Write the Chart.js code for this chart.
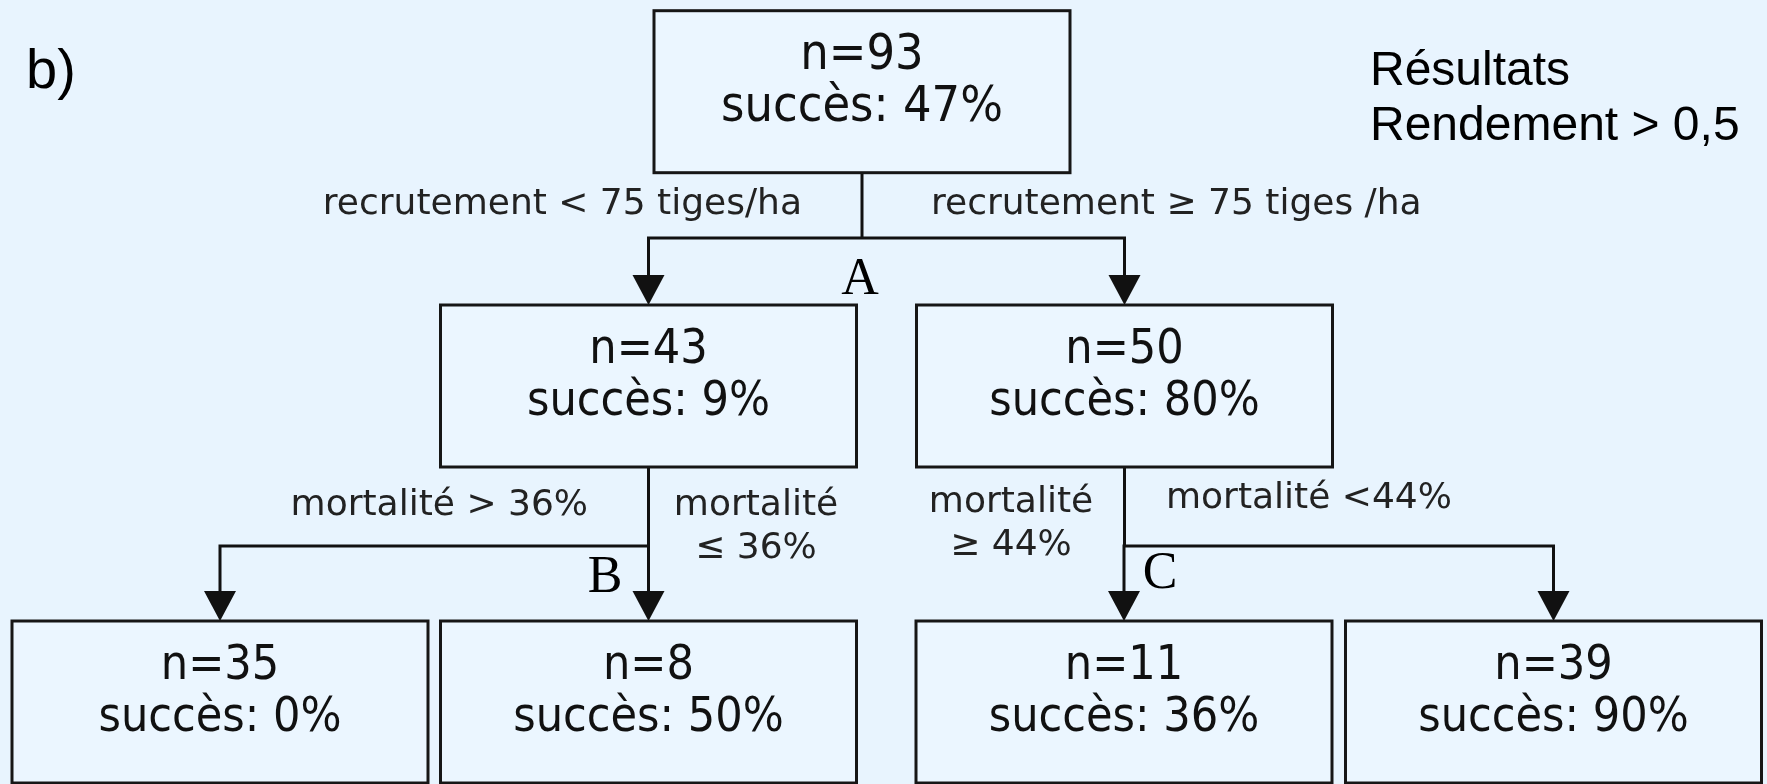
<!DOCTYPE html>
<html>
<head>
<meta charset="utf-8">
<script src="https://cdn.jsdelivr.net/npm/chart.js@4/dist/chart.umd.min.js"></script>
<style>
  html, body { margin: 0; padding: 0; background: #E8F4FE; }
  #wrap { width: 1767px; height: 784px; position: relative; }
</style>
</head>
<body>
<div id="wrap"><canvas id="c"></canvas></div>
<script>
// ---- data ----
const nodeN = [93, 43, 50, 35, 8, 11, 39];
const nodeSuccess = [47, 9, 80, 0, 50, 36, 90];
const nodeParent = [-1, 0, 0, 1, 1, 2, 2];
const splitNames = ['A', 'B', 'C'];          // split letter for nodes 0,1,2
const edgeLabels = [
  null,
  ['recrutement < 75 tiges/ha'],
  ['recrutement \u2265 75 tiges /ha'],
  ['mortalit\u00e9 > 36%'],
  ['mortalit\u00e9', '\u2264 36%'],
  ['mortalit\u00e9', '\u2265 44%'],
  ['mortalit\u00e9 <44%']
];
const panelLabel = 'b)';
const legendLines = ['R\u00e9sultats', 'Rendement > 0,5'];

// ---- layout (tree coordinates, mapped through the chart scales) ----
const nodeX = [862, 648.5, 1124.5, 220, 648.5, 1124, 1553.5];
const nodeTop = [10.7, 305, 305, 621, 621, 621, 621];
const boxW = 416, boxH = 162;
const branchY = [238, 546, 546];     // y of the horizontal connector below node i
const arrowH = 30, arrowW = 32;
// edge label anchors: [x, baseline y, align]
const edgeLabelPos = [null, [802, 214, 'right'], [931, 214, 'left'], [588, 515, 'right'],
  [756, 515, 'center'], [1011, 512, 'center'], [1166, 508, 'left']];
const splitPos = [[860, 294], [605, 592], [1160, 588]];

const treePlugin = {
  id: 'tree',
  afterDatasetsDraw(chart) {
    const ctx = chart.ctx;
    const xs = chart.scales.x, ys = chart.scales.y;
    const X = v => xs.getPixelForValue(v);
    const Y = v => ys.getPixelForValue(v);
    const dx = v => X(v) - X(0);
    const dy = v => Y(v) - Y(0);
    ctx.save();
    // panel label and legend text
    ctx.fillStyle = '#000';
    ctx.textBaseline = 'alphabetic';
    ctx.textAlign = 'left';
    ctx.font = '56px "Liberation Sans", Arial, sans-serif';
    ctx.fillText(panelLabel, X(26), Y(88));
    ctx.font = '48px "Liberation Sans", Arial, sans-serif';
    ctx.fillText(legendLines[0], X(1370), Y(85));
    ctx.fillText(legendLines[1], X(1370), Y(140));

    // connectors
    ctx.strokeStyle = '#111';
    ctx.fillStyle = '#111';
    ctx.lineWidth = 3;
    for (let p = 0; p < nodeN.length; p++) {
      const kids = [];
      for (let k = 0; k < nodeN.length; k++) if (nodeParent[k] === p) kids.push(k);
      if (!kids.length) continue;
      const px = X(nodeX[p]);
      const by = Y(branchY[p]);
      ctx.beginPath();
      ctx.moveTo(px, Y(nodeTop[p] + boxH));
      ctx.lineTo(px, by);
      const kx = kids.map(k => X(nodeX[k]));
      ctx.moveTo(Math.min(px, ...kx) - 1.5, by);
      ctx.lineTo(Math.max(px, ...kx) + 1.5, by);
      kids.forEach(k => {
        ctx.moveTo(X(nodeX[k]), by);
        ctx.lineTo(X(nodeX[k]), Y(nodeTop[k] - arrowH));
      });
      ctx.stroke();
      kids.forEach(k => {
        const tx = X(nodeX[k]), ty = Y(nodeTop[k]);
        ctx.beginPath();
        ctx.moveTo(tx - dx(arrowW) / 2, ty - dy(arrowH));
        ctx.lineTo(tx + dx(arrowW) / 2, ty - dy(arrowH));
        ctx.lineTo(tx, ty);
        ctx.closePath();
        ctx.fill();
      });
    }

    // boxes
    for (let i = 0; i < nodeN.length; i++) {
      const l = X(nodeX[i] - boxW / 2), t = Y(nodeTop[i]);
      ctx.fillStyle = '#EBF6FF';
      ctx.fillRect(l, t, dx(boxW), dy(boxH));
      ctx.strokeStyle = '#161616';
      ctx.lineWidth = 3;
      ctx.strokeRect(l, t, dx(boxW), dy(boxH));
      ctx.fillStyle = '#111';
      ctx.textAlign = 'center';
      ctx.font = (i === 0 ? '50px' : '48px') + ' "DejaVu Sans Condensed", "DejaVu Sans", sans-serif';
      const cy = nodeTop[i] + boxH / 2;
      ctx.fillText('n=' + nodeN[i], X(nodeX[i]), Y(cy - 23));
      ctx.fillText('succ\u00e8s: ' + nodeSuccess[i] + '%', X(nodeX[i]), Y(cy + 29));
    }

    // edge labels
    ctx.fillStyle = '#222';
    ctx.font = '36px "DejaVu Sans", sans-serif';
    for (let k = 1; k < nodeN.length; k++) {
      const pos = edgeLabelPos[k];
      ctx.textAlign = pos[2];
      edgeLabels[k].forEach((line, j) => ctx.fillText(line, X(pos[0]), Y(pos[1] + j * 43)));
    }

    // split letters
    ctx.fillStyle = '#000';
    ctx.textAlign = 'center';
    ctx.font = '52px "Liberation Serif", "Times New Roman", serif';
    splitNames.forEach((s, i) => ctx.fillText(s, X(splitPos[i][0]), Y(splitPos[i][1])));
    ctx.restore();
  }
};

new Chart(document.getElementById('c'), {
  type: 'scatter',
  data: {
    datasets: [{
      data: nodeN.map((n, i) => ({ x: nodeX[i], y: nodeTop[i] + boxH / 2 })),
      pointRadius: 0,
      pointHoverRadius: 0
    }]
  },
  options: {
    responsive: true,
    maintainAspectRatio: false,
    animation: false,
    devicePixelRatio: 1,
    layout: { padding: 0 },
    plugins: { legend: { display: false }, tooltip: { enabled: false } },
    scales: {
      x: { type: 'linear', min: 0, max: 1767, display: false },
      y: { type: 'linear', min: 0, max: 784, reverse: true, display: false }
    }
  },
  plugins: [treePlugin]
});
</script>
</body>
</html>
